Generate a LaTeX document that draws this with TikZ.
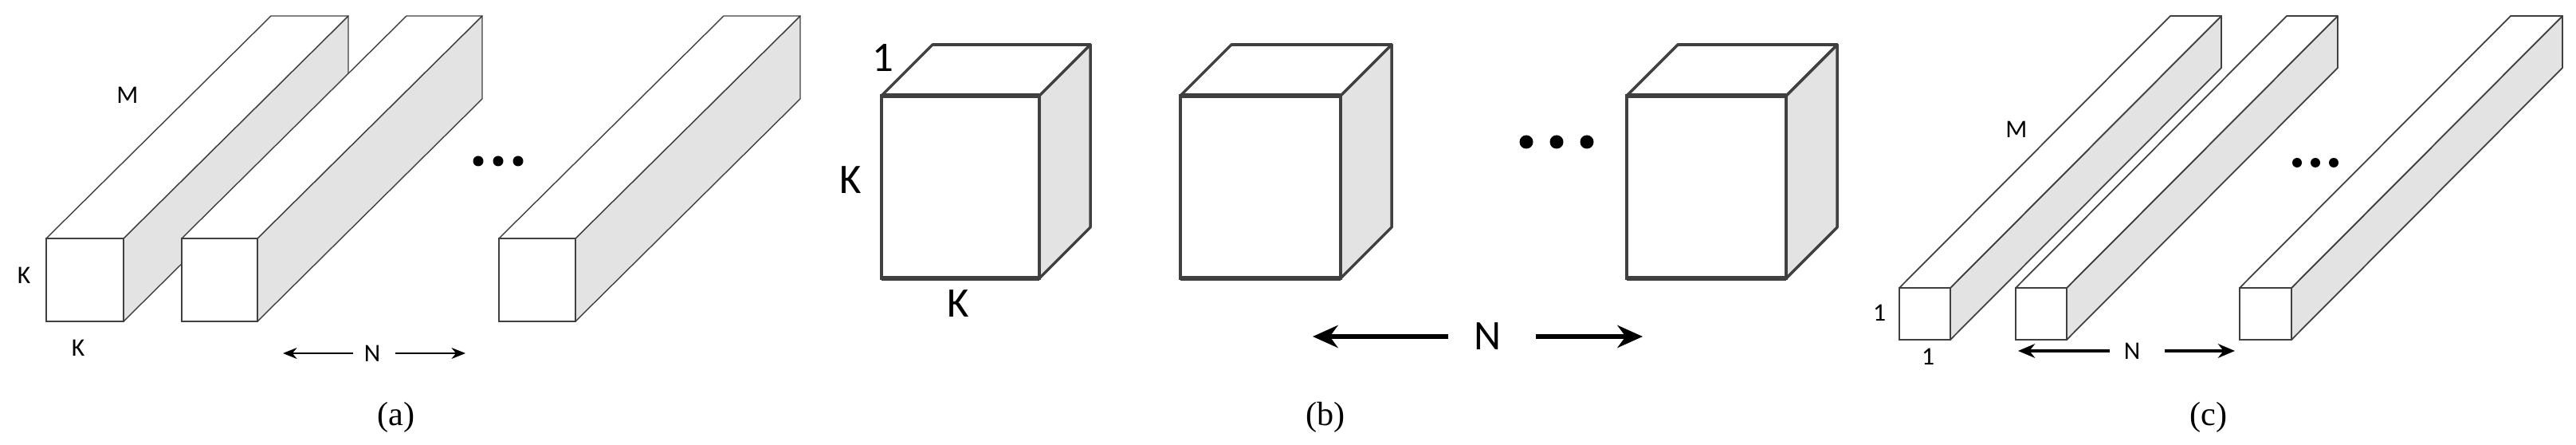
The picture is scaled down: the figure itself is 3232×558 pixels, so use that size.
\documentclass[tikz,border=0pt]{standalone}
\usepackage{fontspec}
\setmainfont{Liberation Serif}
\newfontfamily\lblfont{Carlito}
\usetikzlibrary{arrows.meta}
\newcommand\prism[7]{% L R T B dx dy linewidth
  \draw[line width=#7, draw=black!75, fill=sidegray, line join=round] (#2,#3)--++(#5,-#6)--(#2+#5,#4-#6)--(#2,#4)--cycle;
  \draw[line width=#7, draw=black!75, fill=white, line join=round] (#1,#3)--++(#5,-#6)--(#2+#5,#3-#6)--(#2,#3)--cycle;
  \draw[line width=#7, draw=black!75, fill=white] (#1,#3) rectangle (#2,#4);
  \draw[line width=1.6*#7, draw=black!75] (#1,#3)--(#2,#3) (#1,#4)--(#2,#4);
}
\definecolor{sidegray}{HTML}{E3E3E3}
\tikzset{lbl/.style={font=\lblfont, inner sep=0pt}, captxt/.style={font=\fontsize{12}{14}\selectfont, inner sep=0pt}}
\begin{document}
\begin{tikzpicture}[x=0.01cm, y=-0.01cm]
\useasboundingbox (0,0) rectangle (3232,558);
% (a)
\prism{58}{155}{299}{403}{282}{279}{0.4pt}
\prism{228}{323}{299}{403}{282}{279}{0.4pt}
\prism{626}{722}{299}{403}{282}{279}{0.4pt}
\foreach \x in {600,625,650} \fill (\x,202) circle (6.5);
\node[lbl, font=\lblfont\fontsize{9}{10}\selectfont] (aM) at (160,119) {M};
\node[lbl, font=\lblfont\fontsize{9}{10}\selectfont] (aK1) at (30,345) {K};
\node[lbl, font=\lblfont\fontsize{9}{10}\selectfont] (aK2) at (98,436) {K};
\node[lbl, font=\lblfont\fontsize{9}{10}\selectfont] (aN) at (467,443) {N};
\coordinate (aL) at (355,443); \coordinate (aR) at (584,443);
\draw[-{Stealth[length=5pt,width=4pt]}, line width=0.5pt] (443,443) -- (aL);
\draw[-{Stealth[length=5pt,width=4pt]}, line width=0.5pt] (496,443) -- (aR);
\node[captxt] (ca) at (497,523) {(a)};
% (b)
\prism{1106}{1304}{120}{349}{64}{64}{1pt}
\prism{1481}{1682}{120}{349}{64}{64}{1pt}
\prism{2041}{2241}{120}{349}{64}{64}{1pt}
\foreach \x in {1915,1953,1991} \fill (\x,178) circle (8.5);
\node[lbl, font=\lblfont\fontsize{15}{16}\selectfont] (b1) at (1108,73) {1};
\node[lbl, font=\lblfont\fontsize{15}{16}\selectfont] (bK1) at (1067,226) {K};
\node[lbl, font=\lblfont\fontsize{15}{16}\selectfont] (bK2) at (1202,381) {K};
\node[lbl, font=\lblfont\fontsize{15}{16}\selectfont] (bN) at (1867,422) {N};
\coordinate (bL) at (1647,422); \coordinate (bR) at (2061,422);
\draw[-{Stealth[length=9pt,width=8pt]}, line width=1.6pt] (1817,422) -- (bL);
\draw[-{Stealth[length=9pt,width=8pt]}, line width=1.6pt] (1927,422) -- (bR);
\node[captxt] (cb) at (1663,523) {(b)};
% (c)
\prism{2383}{2447}{361}{426}{340}{341}{0.5pt}
\prism{2529}{2593}{361}{426}{340}{341}{0.5pt}
\prism{2810}{2875}{361}{426}{340}{341}{0.5pt}
\foreach \x in {2882,2905,2928} \fill (\x,204) circle (6);
\node[lbl, font=\lblfont\fontsize{9}{10}\selectfont] (cM) at (2530,162) {M};
\node[lbl, font=\lblfont\fontsize{9}{10}\selectfont] (c1a) at (2358,392) {1};
\node[lbl, font=\lblfont\fontsize{9}{10}\selectfont] (c1b) at (2419,447) {1};
\node[lbl, font=\lblfont\fontsize{9}{10}\selectfont] (cN) at (2675,440) {N};
\coordinate (cL) at (2532,440); \coordinate (cR) at (2804,440);
\draw[-{Stealth[length=6pt,width=5pt]}, line width=1pt] (2647,440) -- (cL);
\draw[-{Stealth[length=6pt,width=5pt]}, line width=1pt] (2716,440) -- (cR);
\node[captxt] (cc) at (2771,523) {(c)};
\end{tikzpicture}
\end{document}
